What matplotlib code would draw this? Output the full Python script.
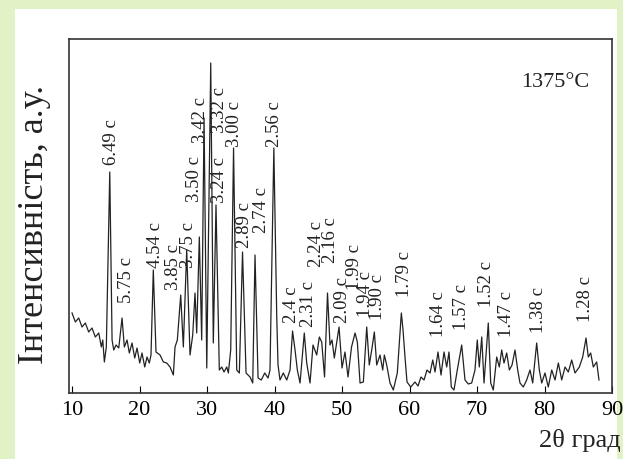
import matplotlib
matplotlib.use("Agg")
import matplotlib.pyplot as plt
from matplotlib.patches import Rectangle

plt.rcParams['font.family'] = ['Liberation Serif', 'DejaVu Serif']

# XRD pattern (2theta in degrees, intensity in a.u.)
two_theta = [10.0, 10.49, 10.99, 11.48, 11.97, 12.47, 12.96, 13.45, 13.96, 14.34,
             14.55, 14.79, 15.08, 15.59, 15.93, 16.18, 16.52, 16.92, 17.41, 17.75,
             18.15, 18.49, 18.89, 19.29, 19.63, 20.03, 20.37, 20.77, 21.11, 21.45,
             21.70, 22.04, 22.44, 23.04, 23.53, 24.03, 24.52, 25.01, 25.26, 25.60,
             26.10, 26.49, 26.99, 27.48, 27.88, 28.22, 28.47, 28.86, 29.21, 29.56,
             29.96, 30.55, 30.93, 31.33, 31.82, 32.18, 32.52, 32.92, 33.16, 33.51,
             33.93, 34.40, 34.79, 35.26, 35.78, 36.37, 36.77, 37.11, 37.56, 38.04,
             38.55, 39.04, 39.33, 39.90, 40.33, 40.52, 40.81, 41.30, 41.81, 42.30,
             42.67, 43.04, 43.38, 43.78, 44.41, 44.77, 45.26, 45.70, 46.25, 46.64,
             46.99, 47.41, 47.85, 48.22, 48.52, 48.86, 49.26, 49.56, 50.00, 50.44,
             50.89, 51.41, 51.93, 52.27, 52.67, 53.16, 53.66, 54.04, 54.40, 54.79,
             55.14, 55.63, 56.03, 56.27, 56.62, 57.11, 57.60, 58.19, 58.79, 59.04,
             59.33, 59.63, 60.18, 60.81, 61.26, 61.70, 62.15, 62.59, 63.04, 63.44,
             63.78, 64.22, 64.67, 65.11, 65.51, 65.85, 66.19, 66.59, 67.08, 67.73,
             68.22, 68.71, 69.21, 69.70, 70.04, 70.34, 70.70, 71.04, 71.67, 72.03,
             72.41, 72.92, 73.30, 73.66, 74.00, 74.40, 74.79, 75.19, 75.63, 76.03,
             76.37, 76.86, 77.36, 77.85, 78.25, 78.84, 79.23, 79.59, 80.07, 80.56,
             81.07, 81.56, 82.05, 82.55, 83.04, 83.53, 84.03, 84.52, 85.16, 85.66,
             86.15, 86.49, 86.84, 87.23, 87.73, 88.07]
intensity = [80, 71, 75, 66, 70, 61, 65, 56, 60, 46,
             53, 31, 46, 221, 53, 43, 48, 45, 75, 46,
             53, 40, 50, 35, 45, 30, 40, 26, 36, 30,
             38, 123, 41, 38, 31, 30, 26, 18, 46, 53,
             98, 46, 143, 38, 58, 100, 60, 156, 53, 275,
             25, 330, 50, 188, 23, 26, 21, 26, 20, 43,
             245, 23, 20, 141, 20, 16, 10, 138, 15, 13,
             20, 15, 23, 245, 76, 28, 13, 20, 13, 23,
             62, 43, 23, 10, 60, 30, 10, 48, 38, 56,
             51, 16, 100, 48, 53, 35, 53, 66, 25, 41,
             16, 46, 60, 51, 10, 11, 66, 28, 43, 61,
             28, 38, 23, 38, 28, 10, 3, 20, 80, 63,
             36, 11, 6, 11, 7, 16, 13, 23, 20, 33,
             21, 41, 18, 41, 26, 41, 6, 3, 23, 48,
             13, 9, 10, 23, 53, 26, 56, 10, 70, 10,
             3, 36, 26, 43, 30, 40, 23, 28, 43, 23,
             10, 6, 13, 23, 10, 50, 23, 10, 20, 6,
             23, 13, 30, 13, 26, 21, 33, 20, 26, 36,
             55, 36, 40, 26, 31, 13]

# d-spacing labels (text, 2theta, intensity at the foot of the label)
peak_labels = ['6.49 c', '5.75 c', '4.54 c', '3.85 c', '3.75 c', '3.50 c', '3.42 c',
               '3.32 c', '3.24 c', '3.00 c', '2.89 c', '2.74 c', '2.56 c', '2.4 c',
               '2.31 c', '2.24 c', '2.16 c', '2.09 c', '1.99 c', '1.94 c', '1.90 c',
               '1.79 c', '1.64 c', '1.57 c', '1.52 c', '1.47 c', '1.38 c', '1.28 c']
label_x = [15.9, 18.1, 22.3, 25.1, 27.3, 28.2, 29.1,
           31.9, 31.8, 34.1, 35.5, 38.0, 40.0, 42.5,
           45.0, 46.2, 48.3, 50.0, 51.9, 53.55, 55.3,
           59.3, 64.3, 67.7, 71.4, 74.4, 79.1, 86.0]
label_y = [228, 90, 125, 103, 125, 191, 250,
           260, 190, 246, 145, 160, 246, 70,
           66, 126, 130, 70, 103, 76, 73,
           96, 56, 63, 86, 56, 60, 71]

fig = plt.figure(figsize=(6.23, 4.59), dpi=100)
fig.patch.set_facecolor('#e1f3c6')
# white panel inside the green frame
fig.patches.append(Rectangle((15 / 623, 0), 602 / 623, 1 - 9 / 459,
                             transform=fig.transFigure, facecolor='white',
                             edgecolor='none', zorder=-1))

ax = fig.add_axes([69 / 623, 1 - 393 / 459, 543 / 623, 354 / 459])
ax.set_facecolor('white')
ax.plot(two_theta, intensity, color='#222222', lw=0.9)

for txt, x, y in zip(peak_labels, label_x, label_y):
    ax.text(x, y, txt, rotation=90, ha='center', va='bottom', fontsize=13.5, color='#222222')

ax.text(81.6, 310, '1375°C', ha='center', va='center', fontsize=16, color='#222222')

ax.set_xlim(9.55, 90)
ax.set_ylim(0, 354)
ax.set_xticks(range(10, 91, 10))
ax.set_yticks([])
ax.tick_params(axis='x', direction='in', length=5, labelsize=16, pad=6)
for s in ax.spines.values():
    s.set_color('#333333')
    s.set_linewidth(1.2)

fig.text(0.056, 0.51, 'Інтенсивність, а.у.', rotation=90, ha='center', va='center',
         fontsize=26, color='#222222')
fig.text(0.997, 0.041, '2θ град', ha='right', va='center', fontsize=19, color='#222222')

fig.savefig('out.png', dpi=100, facecolor=fig.get_facecolor())
